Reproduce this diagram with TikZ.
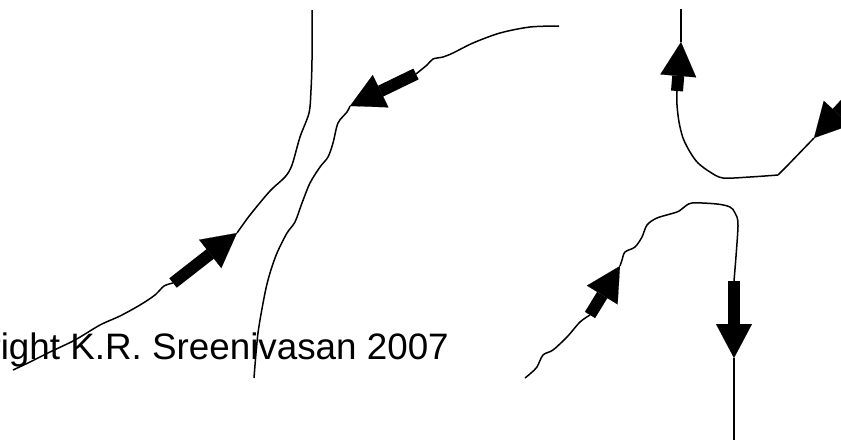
\documentclass[tikz,border=0pt]{standalone}
\usepackage{fontspec}
\setmainfont{Liberation Sans}
\usetikzlibrary{arrows.meta}
\begin{document}
\begin{tikzpicture}[x=1pt,y=-1pt,
  trail/.style={line width=1.5pt, line join=round},
  blockarrow/.style={line width=12pt, -{Triangle[width=36pt,length=34pt,line width=0.1pt]}},
  credit/.style={anchor=base east, inner sep=0pt, font=\fontsize{36.8}{42}\selectfont}]
\useasboundingbox (0,0) rectangle (841,440);
\clip (0,0) rectangle (841,440);

% copyright line, partly running off the left edge
\node[credit] (credit) at (449,359) {Copyright K.R. Sreenivasan 2007};

% ---- left pair of trajectories ----
% rising path, bottom left to top
\coordinate (a1) at (173,283);
\coordinate (a2) at (237,233);
\draw[trail] plot[smooth, tension=0.5] coordinates {
  (13,370) (30,362) (50,352) (75,340) (100,325) (120,316) (140,305)
  (155,295) (164,286) (a1)};
\draw[blockarrow] (a1) -- (a2);
\draw[trail] plot[smooth, tension=0.5] coordinates {
  (a2) (250,215) (270,191) (285,177) (292,165) (300,137) (309,113)
  (311,90) (312,60) (312,10)};

% descending path, top right to bottom
\coordinate (b1) at (416,74);
\coordinate (b2) at (350,106);
\draw[trail] plot[smooth, tension=0.5] coordinates {
  (559,26) (530,27) (500,33) (473,43) (453,53) (443,57) (433,59)
  (427,65) (b1)};
\draw[blockarrow] (b1) -- (b2);
\draw[trail] plot[smooth, tension=0.5] coordinates {
  (b2) (347,112) (338,123) (333,143) (328,157) (320,167) (310,183)
  (302,203) (295,222) (287,233) (277,253) (270,273) (265,293)
  (258,333) (254,378)};

% ---- right pair of trajectories ----
% upper path: in from the right, turning up
\coordinate (c1) at (677,91);
\coordinate (c2) at (681,42);
\coordinate (c3) at (860,88);
\coordinate (c4) at (814,138);
\draw[blockarrow] (c1) -- (c2);
\draw[trail] (c2) -- (681,9);
\draw[trail] plot[smooth, tension=0.5] coordinates {
  (c1) (677,105) (679,122) (683,138) (690,152) (698,163) (710,172)
  (723,178) (750,177) (778,175)};
\draw[trail] (778,175) -- (787,166) -- (c4);
\draw[blockarrow] (c3) -- (c4);

% lower path: in from the lower left, turning down
\coordinate (d1) at (590,315);
\coordinate (d2) at (620,266);
\coordinate (d3) at (734,281);
\coordinate (d4) at (734,358);
\draw[trail] plot[smooth, tension=0.5] coordinates {
  (525,378) (531,373) (537,367) (543,355) (553,350) (567,337)
  (580,322) (d1)};
\draw[blockarrow] (d1) -- (d2);
\draw[trail] plot[smooth, tension=0.5] coordinates {
  (d2) (622,260) (625,252) (635,247) (642,237) (647,225) (657,218)
  (677,212) (683,208) (692,203) (717,204) (730,207) (735,213)
  (738,226) (d3)};
\draw[blockarrow] (d3) -- (d4);
\draw[trail] (d4) -- (734,440);
\end{tikzpicture}
\end{document}
